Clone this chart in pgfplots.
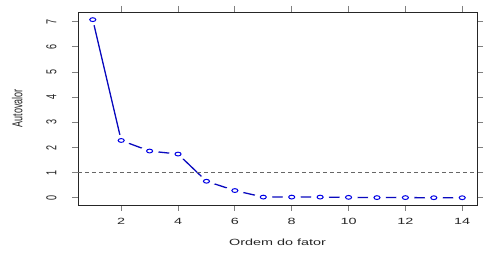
\documentclass[border=0pt]{standalone}
\usepackage{pgfplots}
\pgfplotsset{compat=1.18}
\usepackage{fontspec}
\setmainfont{Liberation Sans}
\definecolor{lineblue}{RGB}{10,10,190}
\definecolor{markblue}{RGB}{0,0,230}
\newcommand{\hs}[1]{\scalebox{1.6}[1]{#1}}
\newcommand{\vs}[1]{\scalebox{1}[1.6]{#1}}
\begin{document}
\begin{tikzpicture}[x=1pt,y=1pt]
\begin{axis}[
  scale only axis, width=399pt, height=193pt,
  xmin=0.48, xmax=14.52, ymin=-0.284, ymax=7.384,
  xtick={2,4,...,14}, ytick={0,1,...,7},
  tick align=outside, major tick length=6pt,
  tick style={gray, line width=0.9pt},
  axis line style={black!85, line width=0.9pt},
  font=\fontsize{9}{11}\selectfont,
  xticklabel={\hs{\pgfmathprintnumber[assume math mode=true]{\tick}}},
  yticklabel={\vs{\pgfmathprintnumber[assume math mode=true]{\tick}}},
  yticklabel style={rotate=90, anchor=south, yshift=12pt, text=black!85},
  xticklabel style={yshift=-4pt, text=black!85},
  xlabel={\hs{Ordem do fator}}, ylabel={\vs{Autovalor}},
  xlabel style={yshift=-7pt, text=black!85},
  ylabel style={yshift=17pt, text=black!85},
]
\addplot[lineblue, line width=1.3pt] coordinates {(1,7.08)(2,2.28)(3,1.86)(4,1.74)(5,0.66)(6,0.29)(7,0.03)(8,0.03)(9,0.03)(10,0.02)(11,0.01)(12,0.01)(13,0.005)(14,0.005)};
\addplot[only marks, mark=*, white, mark size=5.5pt, mark options={xscale=1.6, fill=white, draw=white}] coordinates {(1,7.08)(2,2.28)(3,1.86)(4,1.74)(5,0.66)(6,0.29)(7,0.03)(8,0.03)(9,0.03)(10,0.02)(11,0.01)(12,0.01)(13,0.005)(14,0.005)};
\addplot[only marks, mark=o, markblue, line width=1pt, mark size=1.9pt, mark options={xscale=1.6}] coordinates {(1,7.08)(2,2.28)(3,1.86)(4,1.74)(5,0.66)(6,0.29)(7,0.03)(8,0.03)(9,0.03)(10,0.02)(11,0.01)(12,0.01)(13,0.005)(14,0.005)};
\addplot[gray!80!black, dash pattern=on 4pt off 3pt, line width=0.8pt] coordinates {(0.48,1)(14.52,1)};
\end{axis}
\path (current axis.south west) ++(-78pt,-54pt) rectangle ++(493pt,259pt);
\end{tikzpicture}
\end{document}
